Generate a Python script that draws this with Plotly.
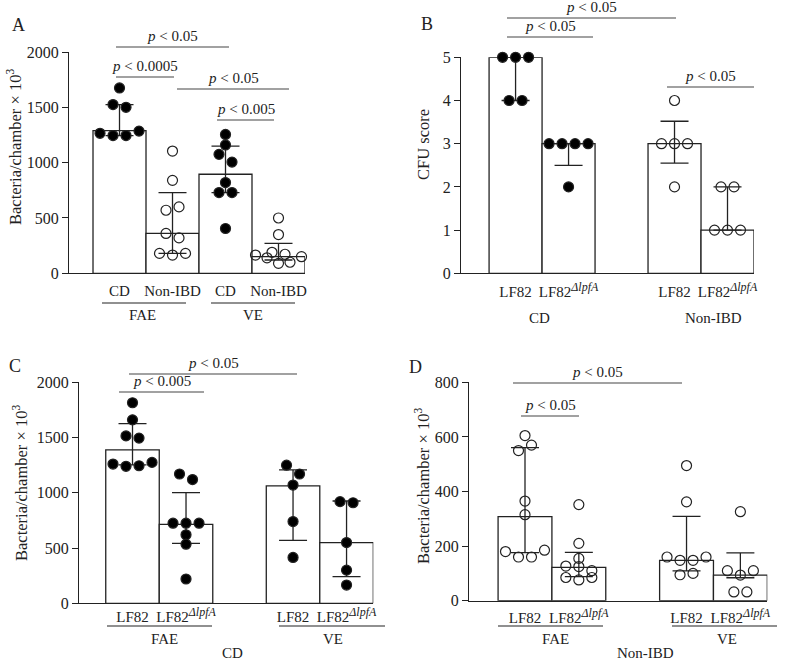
import plotly.graph_objects as go

W, H = 795, 660
FONT = "Liberation Serif"
INK = "#222222"

# ---------------- data ----------------
DLPFA = "LF82<sup><span style='font-size:12px'><i>ΔlpfA</i></span></sup>"

# Panel A: FAE / VE, CD vs Non-IBD
a_labels = ["CD", "Non-IBD", "CD", "Non-IBD"]
a_filled = [True, False, True, False]
a_bar = [1290, 360, 895, 150]
a_hi = [1525, 730, 1150, 270]
a_lo = [1245, 180, 730, 120]
a_points = [
    [1675, 1525, 1500, 1265, 1245, 1245, 1285],
    [1105, 840, 570, 600, 360, 320, 180, 165, 180],
    [1255, 1160, 1075, 1005, 820, 730, 730, 405],
    [500, 350, 190, 165, 140, 90, 100, 150, 172],
]

# Panel B: CFU score
b_labels = ["LF82", DLPFA, "LF82", DLPFA]
b_filled = [True, True, False, False]
b_bar = [5, 3, 3, 1]
b_hi = [5, 3, 3.52, 2]
b_lo = [4, 2.5, 2.55, 1]
b_points = [
    [5, 5, 5, 4, 4],
    [3, 3, 3, 3, 2],
    [4, 3, 3, 3, 2],
    [2, 2, 1, 1, 1],
]

# Panel C: CD
c_labels = ["LF82", DLPFA, "LF82", DLPFA]
c_filled = [True, True, True, True]
c_bar = [1388, 715, 1062, 549]
c_hi = [1626, 1001, 1207, 926]
c_lo = [1252, 543, 570, 241]
c_points = [
    [1815, 1660, 1515, 1495, 1260, 1240, 1245, 1275],
    [1170, 1120, 725, 725, 725, 620, 535, 220],
    [1250, 1170, 1070, 740, 415],
    [920, 910, 550, 300, 165],
]

# Panel D: Non-IBD
d_labels = ["LF82", DLPFA, "LF82", DLPFA]
d_filled = [False, False, False, False]
d_bar = [308, 122, 148, 94]
d_hi = [561, 177, 309, 175]
d_lo = [176, 88, 109, 84]
d_points = [
    [605, 550, 570, 365, 315, 180, 160, 160, 185],
    [352, 210, 155, 127, 125, 110, 85, 76, 85],
    [495, 362, 160, 148, 148, 160, 95, 100],
    [326, 110, 94, 110, 32, 32],
]


def px(x):
    return x / W


def py(y):
    return 1 - y / H


def swarm(values, ppu_x, ppu_y, spacing=13, row_px=9):
    # group close values into rows, centre each row around the bar
    order = sorted(range(len(values)), key=lambda i: values[i])
    rows, cur, start = [], [], None
    for i in order:
        if cur and (values[i] - start) * ppu_y > row_px:
            rows.append(cur)
            cur = []
        if not cur:
            start = values[i]
        cur.append(i)
    if cur:
        rows.append(cur)
    offs = [0.0] * len(values)
    for row in rows:
        row = sorted(row)
        n = len(row)
        sp = min(spacing, 46 / max(n - 1, 1))
        for k, i in enumerate(row):
            offs[i] = (k - (n - 1) / 2) * sp / ppu_x
    return offs


panels = [
    # (labels, filled, bar, hi, lo, points, slots, xdom px, ydom px, xrange, yrange, ytick step, label standoff)
    (a_labels, a_filled, a_bar, a_hi, a_lo, a_points, [0, 1, 2, 3],
     (69, 305), (52, 273.3), (-0.953, 3.5), (0, 2000), 500, 4),
    (b_labels, b_filled, b_bar, b_hi, b_lo, b_points, [0, 1, 3, 4],
     (461, 754), (57.3, 273.3), (-1.03, 4.5), (0, 5), 1, 5),
    (c_labels, c_filled, c_bar, c_hi, c_lo, c_points, [0, 1, 3, 4],
     (79, 373.3), (382.3, 603.3), (-1.0, 4.5), (0, 2000), 500, 0),
    (d_labels, d_filled, d_bar, d_hi, d_lo, d_points, [0, 1, 3, 4],
     (469, 767.3), (382.3, 600.7), (-1.04, 4.5), (0, 800), 200, 3),
]

fig = go.Figure()
layout = {}

for n, (labels, filled, bar, hi, lo, points, slots, xdom, ydom, xr, yr, step, stand) in enumerate(panels, 1):
    xa = "x" if n == 1 else f"x{n}"
    ya = "y" if n == 1 else f"y{n}"
    ppu_x = (xdom[1] - xdom[0]) / (xr[1] - xr[0])
    ppu_y = (ydom[1] - ydom[0]) / (yr[1] - yr[0])

    fig.add_trace(go.Bar(
        x=slots, y=bar, width=1, xaxis=xa, yaxis=ya,
        marker=dict(color="white", line=dict(color=INK, width=1.3)),
        error_y=dict(type="data", symmetric=False,
                     array=[h - b for h, b in zip(hi, bar)],
                     arrayminus=[b - l for b, l in zip(bar, lo)],
                     width=14, thickness=1.3, color=INK),
        hoverinfo="skip",
    ))

    for slot, vals, fl in zip(slots, points, filled):
        offs = swarm(vals, ppu_x, ppu_y)
        fig.add_trace(go.Scatter(
            x=[slot + o for o in offs], y=vals, mode="markers",
            xaxis=xa, yaxis=ya, cliponaxis=False,
            marker=dict(size=10, symbol="circle" if fl else "circle-open",
                        color="black" if fl else INK,
                        line=dict(width=1.2, color=INK)),
        ))

    key = "" if n == 1 else str(n)
    layout["xaxis" + key] = dict(
        domain=[px(xdom[0]), px(xdom[1])], range=list(xr), anchor=ya,
        showline=True, linecolor=INK, linewidth=1.3, ticks="",
        tickvals=slots, ticktext=labels, ticklabelstandoff=stand,
        tickfont=dict(size=15, family=FONT, color=INK),
        showgrid=False, zeroline=False, fixedrange=True,
    )
    layout["yaxis" + key] = dict(
        domain=[py(ydom[1]), py(ydom[0])], range=list(yr), anchor=xa,
        showline=True, linecolor=INK, linewidth=1.3, ticks="outside",
        ticklen=6, tickwidth=1.3, tickcolor=INK,
        tickvals=[yr[0] + i * step for i in range(int((yr[1] - yr[0]) / step) + 1)],
        tickfont=dict(size=16, family=FONT, color=INK),
        showgrid=False, zeroline=False, fixedrange=True,
    )

fig.update_layout(**layout)

ann = []
shapes = []


def text(x, y, s, size=15, angle=0):
    ann.append(dict(x=px(x), y=py(y), xref="paper", yref="paper", text=s,
                    showarrow=False, textangle=angle,
                    xanchor="center", yanchor="middle",
                    font=dict(size=size, family=FONT, color=INK)))


def hline(x0, x1, y, color="#444444"):
    shapes.append(dict(type="line", xref="paper", yref="paper",
                       x0=px(x0), x1=px(x1), y0=py(y), y1=py(y),
                       line=dict(color=color, width=1.2)))


def sig(label, x0, x1, y):
    hline(x0, x1, y)
    ann.append(dict(x=px((x0 + x1) / 2), y=py(y - 1), xref="paper", yref="paper",
                    text="<i>p</i> &lt; " + label, showarrow=False,
                    xanchor="center", yanchor="bottom",
                    font=dict(size=15, family=FONT, color=INK)))


# panel letters
text(18, 25, "A", 18)
text(427, 24, "B", 18)
text(15, 366, "C", 18)
text(415, 367, "D", 18)

# y titles
ytitle = "Bacteria/chamber × 10<sup>3</sup>"
text(15, 147, ytitle, 16.5, -90)
text(423, 145, "CFU score", 16.5, -90)
text(20, 483, ytitle, 16.5, -90)
text(422, 486, ytitle, 16.5, -90)

# significance brackets
sig("0.05", 116, 229, 47)
sig("0.0005", 116, 174, 77)
sig("0.05", 177, 289, 89)
sig("0.005", 217, 274, 120)
sig("0.05", 507, 676, 18)
sig("0.05", 507, 593, 37)
sig("0.05", 667, 754, 87)
sig("0.05", 129, 297, 374)
sig("0.005", 119, 204, 392)
sig("0.05", 513, 682, 383)
sig("0.05", 521, 579, 416)

# group labels
hline(102, 186, 303, INK)
hline(211, 295, 303, INK)
text(142, 315, "FAE")
text(253, 315, "VE")
text(539, 318, "CD")
text(713, 318, "Non-IBD")
hline(107, 212, 626, INK)
hline(279, 385, 626, INK)
text(164, 639, "FAE")
text(333, 639, "VE")
text(232, 653, "CD")
hline(498, 603, 626, INK)
hline(672, 777, 626, INK)
text(555, 639, "FAE")
text(727, 639, "VE")
text(645, 653, "Non-IBD")

fig.update_layout(
    width=W, height=H, margin=dict(l=0, r=0, t=0, b=0),
    template="none", paper_bgcolor="white", plot_bgcolor="white",
    showlegend=False, barmode="overlay",
    font=dict(family=FONT, color=INK),
    annotations=ann, shapes=shapes,
)

# the page body has a default 8px margin; drop it so pixel positions line up
fig.write_html("out.html", config={"displayModeBar": False},
               post_script="document.body.style.margin='0px';")
